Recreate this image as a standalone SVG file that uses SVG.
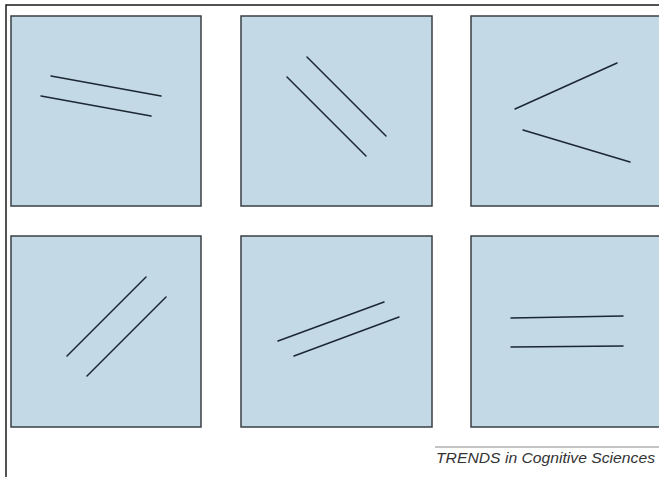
<svg xmlns="http://www.w3.org/2000/svg" width="659" height="477" viewBox="0 0 659 477">
<style>
.frame{fill:none;stroke:#1a1a1a;stroke-width:1.5}
.panel{fill:#c3dae6;stroke:#3a3f44;stroke-width:1.5}
.seg{stroke:#1c2733;stroke-width:1.5;stroke-linecap:round;fill:none}
.cap{font-family:"Liberation Sans",Arial,sans-serif;font-style:italic;font-size:15.5px;fill:#333}
</style>
<rect x="0" y="0" width="659" height="477" fill="#fff"/>
<rect class="frame" x="6" y="5" width="700" height="520"/>
<g id="panel1">
<rect class="panel" x="11" y="16" width="190" height="190"/>
<line class="seg" x1="51" y1="76" x2="161" y2="96"/>
<line class="seg" x1="41" y1="96" x2="151" y2="116"/>
</g>
<g id="panel2">
<rect class="panel" x="241" y="16" width="191" height="190"/>
<line class="seg" x1="307" y1="57" x2="386" y2="136"/>
<line class="seg" x1="287" y1="77" x2="366" y2="156"/>
</g>
<g id="panel3">
<rect class="panel" x="471" y="16" width="191" height="190"/>
<line class="seg" x1="515" y1="109" x2="617" y2="63"/>
<line class="seg" x1="523" y1="130" x2="630" y2="162"/>
</g>
<g id="panel4">
<rect class="panel" x="11" y="236" width="190" height="191"/>
<line class="seg" x1="67" y1="356" x2="146" y2="277"/>
<line class="seg" x1="87" y1="376" x2="166" y2="297"/>
</g>
<g id="panel5">
<rect class="panel" x="241" y="236" width="191" height="191"/>
<line class="seg" x1="278" y1="341" x2="384" y2="302"/>
<line class="seg" x1="294" y1="356" x2="399" y2="317"/>
</g>
<g id="panel6">
<rect class="panel" x="471" y="236" width="191" height="191"/>
<line class="seg" x1="511" y1="318" x2="623" y2="316"/>
<line class="seg" x1="511" y1="347" x2="623" y2="346"/>
</g>
<g id="caption">
<line x1="435" y1="447" x2="659" y2="447" stroke="#8a8a8a" stroke-width="1"/>
<text class="cap" x="436" y="463" textLength="219" lengthAdjust="spacingAndGlyphs">TRENDS in Cognitive Sciences</text>
</g>
</svg>
